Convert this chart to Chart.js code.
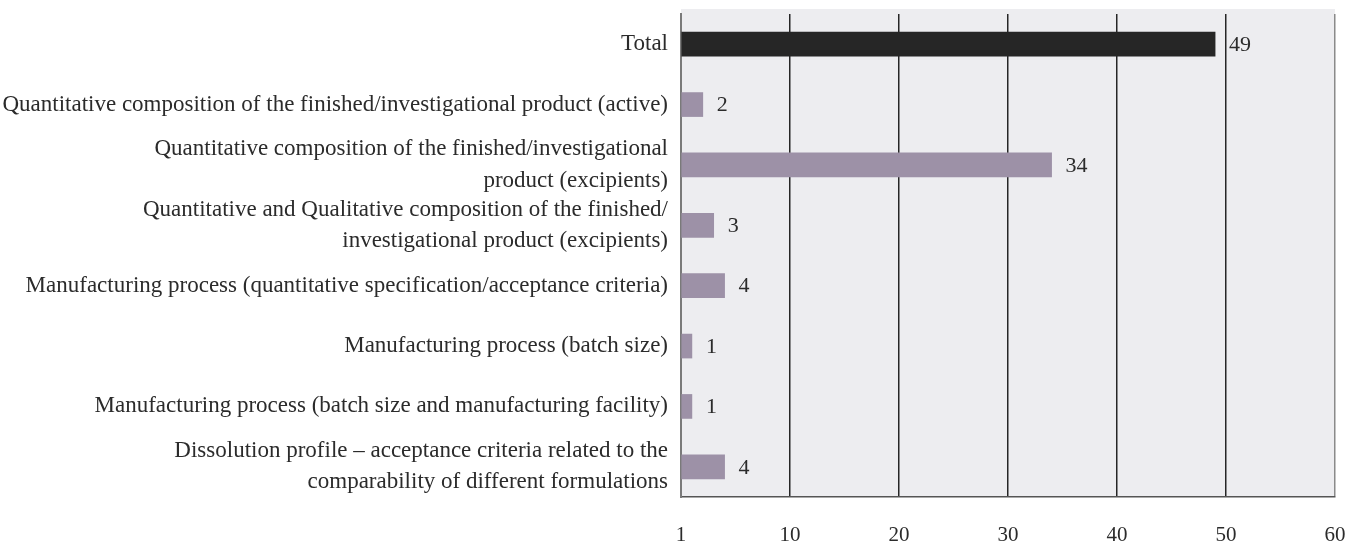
<!DOCTYPE html>
<html lang="en">
<head>
    <meta charset="UTF-8">
    <title>Variations by type</title>
    <style>
        html, body { margin: 0; padding: 0; background: #ffffff; }
        canvas { display: block; }
    </style>
</head>
<body>

    <canvas id="myChart" width="1362" height="547"></canvas>

    <script src="https://cdn.jsdelivr.net/npm/chart.js@4/dist/chart.umd.min.js"></script>

    <script>
        // categories (top to bottom), multi-line ones as arrays
        var categories = [
            'Total',
            'Quantitative composition of the finished/investigational product (active)',
            ['Quantitative composition of the finished/investigational', 'product (excipients)'],
            ['Quantitative and Qualitative composition of the finished/', 'investigational product (excipients)'],
            'Manufacturing process (quantitative specification/acceptance criteria)',
            'Manufacturing process (batch size)',
            'Manufacturing process (batch size and manufacturing facility)',
            ['Dissolution profile \u2013 acceptance criteria related to the', 'comparability of different formulations']
        ];
        var counts = [49, 2, 34, 3, 4, 1, 1, 4];
        var xTicks = [0, 10, 20, 30, 40, 50, 60];
        var xTickLabels = ['1', '10', '20', '30', '40', '50', '60'];

        var serif = '"Liberation Serif", "DejaVu Serif", serif';

        var barColors = counts.map(function (v, i) {
            return i === 0 ? '#262626' : '#9d91a7';
        });

        // grey plot background
        var plotBackground = {
            id: 'plotBackground',
            beforeDraw: function (chart) {
                var a = chart.chartArea;
                var ctx = chart.ctx;
                ctx.save();
                ctx.fillStyle = '#ededf0';
                ctx.fillRect(a.left, a.top - 5, a.right - a.left, a.bottom - a.top + 5);
                ctx.restore();
            }
        };

        // value next to the end of each bar
        var valueLabels = {
            id: 'valueLabels',
            afterDatasetsDraw: function (chart) {
                var ctx = chart.ctx;
                var meta = chart.getDatasetMeta(0);
                ctx.save();
                ctx.font = '22px ' + serif;
                ctx.fillStyle = '#2b2b2b';
                ctx.textBaseline = 'middle';
                ctx.textAlign = 'left';
                meta.data.forEach(function (bar, i) {
                    ctx.fillText(String(counts[i]), bar.x + 14, bar.y + 1);
                });
                ctx.restore();
            }
        };

        var ctx = document.getElementById('myChart').getContext('2d');
        var myChart = new Chart(ctx, {
            type: 'bar',
            data: {
                labels: categories,
                datasets: [{
                    data: counts,
                    backgroundColor: barColors,
                    barThickness: 24
                }]
            },
            options: {
                indexAxis: 'y',
                responsive: false,
                animation: false,
                layout: {
                    autoPadding: false,
                    padding: { top: 14, right: 27, left: 0, bottom: 0 }
                },
                plugins: {
                    legend: { display: false },
                    tooltip: { enabled: false }
                },
                scales: {
                    x: {
                        min: 0,
                        max: 60,
                        afterBuildTicks: function (scale) {
                            scale.ticks = xTicks.map(function (v) { return { value: v }; });
                        },
                        afterFit: function (scale) {
                            scale.height = 50;
                            scale.paddingLeft = 0;
                            scale.paddingRight = 0;
                        },
                        border: { color: '#555555', width: 1.5 },
                        grid: {
                            drawTicks: false,
                            lineWidth: 1.5,
                            color: function (c) {
                                if (c.tick.value === 0) return 'rgba(0,0,0,0)';
                                if (c.tick.value === 60) return '#8a8a8a';
                                return '#262626';
                            }
                        },
                        ticks: {
                            padding: 26,
                            color: '#2b2b2b',
                            font: { family: serif, size: 21 },
                            maxRotation: 0,
                            autoSkip: false,
                            callback: function (v) {
                                return xTickLabels[xTicks.indexOf(v)];
                            }
                        }
                    },
                    y: {
                        afterFit: function (scale) {
                            scale.width = 681;
                            scale.paddingTop = 0;
                            scale.paddingBottom = 0;
                        },
                        border: { color: '#7a7a7a', width: 2 },
                        grid: { display: false },
                        ticks: {
                            padding: 5,
                            autoSkip: false,
                            color: '#2b2b2b',
                            font: { family: serif, size: 23, lineHeight: 1.35 }
                        }
                    }
                }
            },
            plugins: [plotBackground, valueLabels]
        });
    </script>

</body>
</html>
